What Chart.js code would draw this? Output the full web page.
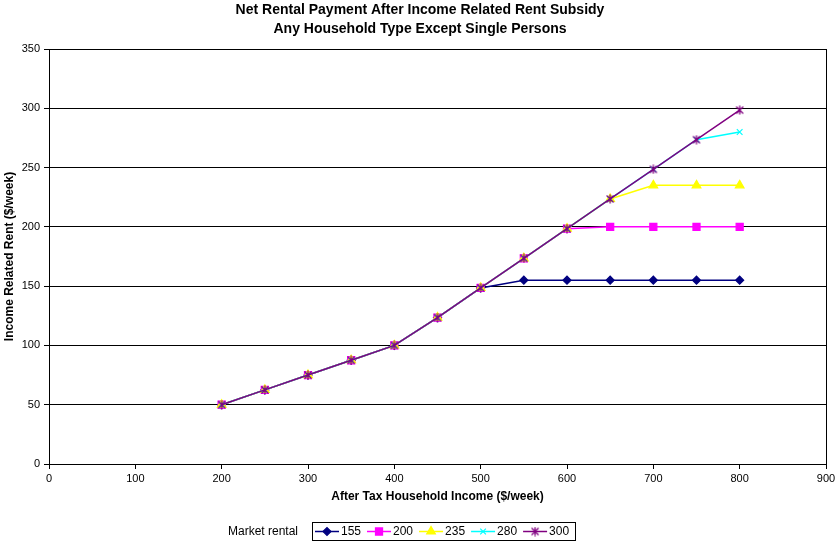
<!DOCTYPE html>
<html>
<head>
<meta charset="utf-8">
<script src="https://cdn.jsdelivr.net/npm/chart.js@4/dist/chart.umd.min.js"></script>
<style>
  html, body { margin: 0; padding: 0; background: #fff; }
  #wrap { width: 840px; height: 541px; }
</style>
</head>
<body>
<div id="wrap"><canvas id="c" width="840" height="541"></canvas></div>
<script>
// After-tax household income ($/week)
const incomes = [200, 250, 300, 350, 400, 450, 500, 550, 600, 650, 700, 750, 800];

// Income related rent ($/week) for each market rental level
const rent155 = [50, 62.5, 75, 87.5, 100, 123.5, 148.5, 155, 155, 155, 155, 155, 155];
const rent200 = [50, 62.5, 75, 87.5, 100, 123.5, 148.5, 173.5, 198.5, 200, 200, 200, 200];
const rent235 = [50, 62.5, 75, 87.5, 100, 123.5, 148.5, 173.5, 198.5, 223.5, 235, 235, 235];
const rent280 = [50, 62.5, 75, 87.5, 100, 123.5, 148.5, 173.5, 198.5, 223.5, 248.5, 273.5, 280];
const rent300 = [50, 62.5, 75, 87.5, 100, 123.5, 148.5, 173.5, 198.5, 223.5, 248.5, 273.5, 298.5];

const seriesLabels = ['155', '200', '235', '280', '300'];
const seriesValues = [rent155, rent200, rent235, rent280, rent300];
const seriesColors = ['#000080', '#FF00FF', '#FFFF00', '#00FFFF', '#800080'];

const xTicks = [0, 100, 200, 300, 400, 500, 600, 700, 800, 900];
const yTicks = [0, 50, 100, 150, 200, 250, 300, 350];

const titleLines = ['Net Rental Payment After Income Related Rent Subsidy',
                    'Any Household Type Except Single Persons'];

const FONT = 'Arial, "Liberation Sans", sans-serif';

// Asterisk-style marker: a diagonal cross with a vertical bar through it
function starMarker(color) {
  const c = document.createElement('canvas');
  c.width = 10; c.height = 10;
  const g = c.getContext('2d');
  g.strokeStyle = color;
  g.lineWidth = 1.3;
  g.beginPath();
  g.moveTo(1.5, 1.5); g.lineTo(8.5, 8.5);
  g.moveTo(8.5, 1.5); g.lineTo(1.5, 8.5);
  g.moveTo(5, 0.5); g.lineTo(5, 9.5);
  g.stroke();
  return c;
}

const seriesMarkers = ['rectRot', 'rect', 'triangle', 'crossRot', starMarker('#800080')];
const seriesRadius = [4, 5, 5, 4, 5];

const datasets = seriesValues.map((vals, i) => ({
  label: seriesLabels[i],
  data: incomes.map((x, j) => ({ x: x, y: vals[j] })),
  borderColor: seriesColors[i],
  backgroundColor: seriesColors[i],
  borderWidth: 1.5,
  pointStyle: seriesMarkers[i],
  pointRadius: seriesRadius[i],
  pointBorderWidth: 1.2,
  pointBorderColor: seriesColors[i],
  pointBackgroundColor: seriesColors[i],
  tension: 0,
  order: seriesValues.length - i
}));

// Two-line heading centred on the canvas
const heading = {
  id: 'heading',
  afterDraw(chart) {
    const ctx = chart.ctx;
    ctx.save();
    ctx.font = 'bold 14px ' + FONT;
    ctx.fillStyle = '#000';
    ctx.textAlign = 'center';
    ctx.textBaseline = 'middle';
    titleLines.forEach((t, i) => ctx.fillText(t, chart.width / 2, 10.5 + i * 19));
    ctx.restore();
  }
};

// Frame around the plot area
const frame = {
  id: 'frame',
  afterDatasetsDraw(chart) {
    const a = chart.chartArea, ctx = chart.ctx;
    ctx.save();
    ctx.strokeStyle = '#000';
    ctx.lineWidth = 1;
    ctx.strokeRect(Math.round(a.left) + 0.5, Math.round(a.top) + 0.5,
                   Math.round(a.right - a.left), Math.round(a.bottom - a.top));
    ctx.restore();
  }
};

// Boxed legend under the axis title, captioned "Market rental"
const boxLegend = {
  id: 'boxLegend',
  afterDraw(chart) {
    const ctx = chart.ctx;
    const ds = chart.data.datasets;
    const cy = 531.5;
    ctx.save();
    ctx.font = '12px ' + FONT;
    ctx.textBaseline = 'middle';
    ctx.fillStyle = '#000';
    ctx.textAlign = 'right';
    ctx.fillText('Market rental', 298, cy);
    ctx.textAlign = 'left';
    const boxLeft = 312;
    let x = boxLeft + 3;
    ds.forEach(d => {
      ctx.strokeStyle = d.borderColor;
      ctx.lineWidth = 1.5;
      ctx.beginPath();
      ctx.moveTo(x, cy);
      ctx.lineTo(x + 24, cy);
      ctx.stroke();
      ctx.fillStyle = d.pointBackgroundColor;
      ctx.strokeStyle = d.pointBorderColor;
      ctx.lineWidth = d.pointBorderWidth;
      Chart.helpers.drawPoint(ctx, {
        pointStyle: d.pointStyle, radius: d.pointRadius, rotation: 0,
        borderWidth: d.pointBorderWidth
      }, x + 12, cy);
      ctx.fillStyle = '#000';
      ctx.fillText(d.label, x + 26, cy);
      x += 26 + ctx.measureText(d.label).width + 6;
    });
    ctx.strokeStyle = '#000';
    ctx.lineWidth = 1;
    ctx.strokeRect(boxLeft + 0.5, 522.5, Math.round(x - boxLeft), 18);
    ctx.restore();
  }
};

new Chart(document.getElementById('c'), {
  type: 'line',
  data: { datasets: datasets },
  options: {
    responsive: false,
    animation: false,
    layout: { padding: { left: 0, right: 14, top: 49, bottom: 33 } },
    plugins: {
      legend: { display: false },
      tooltip: { enabled: false },
      title: { display: false }
    },
    scales: {
      x: {
        type: 'linear',
        min: 0, max: 900,
        afterBuildTicks(scale) { scale.ticks = xTicks.map(v => ({ value: v })); },
        afterFit(scale) { scale.height = 44; },
        grid: { drawOnChartArea: false, drawTicks: true, tickLength: 5, color: '#000' },
        border: { display: true, color: '#000' },
        ticks: { color: '#000', font: { family: FONT, size: 11 }, padding: 3, maxRotation: 0 },
        title: {
          display: true, text: 'After Tax Household Income ($/week)', color: '#000',
          font: { family: FONT, size: 12, weight: 'bold' }, padding: { top: 0, bottom: 4 }
        }
      },
      y: {
        type: 'linear',
        min: 0, max: 350,
        afterBuildTicks(scale) { scale.ticks = yTicks.map(v => ({ value: v })); },
        afterFit(scale) { scale.width = 49; },
        grid: { drawOnChartArea: true, drawTicks: true, tickLength: 5, color: '#000' },
        border: { display: true, color: '#000' },
        ticks: { color: '#000', font: { family: FONT, size: 11 }, padding: 4 },
        title: {
          display: true, text: 'Income Related Rent ($/week)', color: '#000',
          font: { family: FONT, size: 12, weight: 'bold' }, padding: { top: 2, bottom: 0 }
        }
      }
    }
  },
  plugins: [heading, frame, boxLegend]
});
</script>
</body>
</html>
